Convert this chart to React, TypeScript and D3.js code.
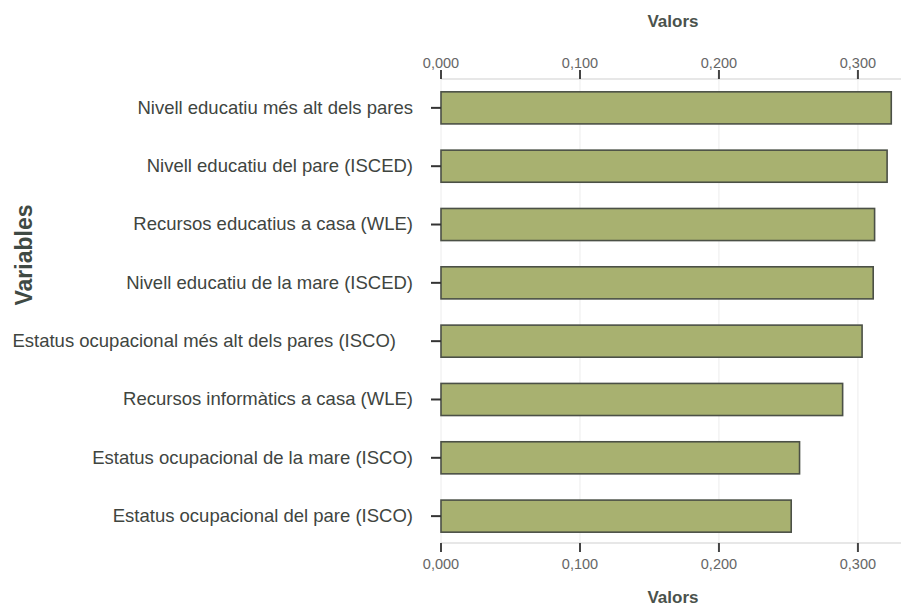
import React from "react";
import * as d3 from "d3";

const categories: string[] = [
  "Nivell educatiu més alt dels pares",
  "Nivell educatiu del pare (ISCED)",
  "Recursos educatius a casa (WLE)",
  "Nivell educatiu de la mare (ISCED)",
  "Estatus ocupacional més alt dels pares (ISCO)",
  "Recursos informàtics a casa (WLE)",
  "Estatus ocupacional de la mare (ISCO)",
  "Estatus ocupacional del pare (ISCO)",
];
const values: number[] = [0.324, 0.321, 0.312, 0.311, 0.303, 0.289, 0.258, 0.252];
const xTicks: number[] = [0, 0.1, 0.2, 0.3];
const xTitle = "Valors";
const yTitle = "Variables";

const W = 901;
const H = 608;

export default function App() {
  const x = d3.scaleLinear().domain([0, 0.331]).range([441, 901]);
  const y = d3
    .scaleBand<string>()
    .domain(categories)
    .range([79, 545])
    .paddingInner(0.45)
    .paddingOuter(0.22);
  const fmt = (v: number) => d3.format(".3f")(v).replace(".", ",");
  const font = "'Liberation Sans', Arial, sans-serif";
  const topAxisY = 79;
  const botAxisY = 543;

  return (
    <svg
      width={W}
      height={H}
      style={{ position: "absolute", left: 0, top: 0, background: "#fff" }}
      fontFamily={font}
    >
      <rect x={0} y={0} width={W} height={H} fill="#fff" />
      {xTicks.map((t) => (
        <line
          key={"g" + t}
          x1={x(t)}
          x2={x(t)}
          y1={topAxisY}
          y2={botAxisY}
          stroke="#ececec"
          strokeWidth={1}
        />
      ))}
      <line x1={x(0)} x2={W} y1={topAxisY} y2={topAxisY} stroke="#cfcfcf" strokeWidth={1} />
      {xTicks.map((t) => (
        <g key={"tt" + t}>
          <line x1={x(t)} x2={x(t)} y1={topAxisY - 9} y2={topAxisY} stroke="#444" strokeWidth={2} />
          <text x={x(t)} y={68} textAnchor="middle" fontSize={14.5} fill="#666">
            {fmt(t)}
          </text>
        </g>
      ))}
      <text x={673} y={27} textAnchor="middle" fontSize={17} fontWeight="bold" fill="#4a524c">
        {xTitle}
      </text>
      <line x1={x(0)} x2={W} y1={botAxisY} y2={botAxisY} stroke="#cfcfcf" strokeWidth={1} />
      {xTicks.map((t) => (
        <g key={"bt" + t}>
          <line x1={x(t)} x2={x(t)} y1={botAxisY} y2={botAxisY + 9} stroke="#444" strokeWidth={2} />
          <text x={x(t)} y={569} textAnchor="middle" fontSize={14.5} fill="#666">
            {fmt(t)}
          </text>
        </g>
      ))}
      <text x={673} y={603} textAnchor="middle" fontSize={17} fontWeight="bold" fill="#4a524c">
        {xTitle}
      </text>
      {categories.map((c, i) => {
        const by = y(c)!;
        const bh = y.bandwidth();
        return (
          <g key={c}>
            <rect
              x={x(0)}
              y={by}
              width={x(values[i]) - x(0)}
              height={bh}
              fill="#a8b170"
              stroke="#4b5046"
              strokeWidth={1.6}
            />
            <line
              x1={x(0) - 10}
              x2={x(0)}
              y1={by + bh / 2}
              y2={by + bh / 2}
              stroke="#333"
              strokeWidth={2}
            />
            <text
              x={c.startsWith("Estatus ocupacional més") ? 396 : 413}
              y={by + bh / 2 + 1}
              textAnchor="end"
              dominantBaseline="middle"
              fontSize={18.5}
              fill="#40453f"
            >
              {c}
            </text>
          </g>
        );
      })}
      <text
        transform="translate(32,255) rotate(-90)"
        textAnchor="middle"
        fontSize={23}
        fontWeight="bold"
        fill="#3f4a44"
      >
        {yTitle}
      </text>
    </svg>
  );
}
